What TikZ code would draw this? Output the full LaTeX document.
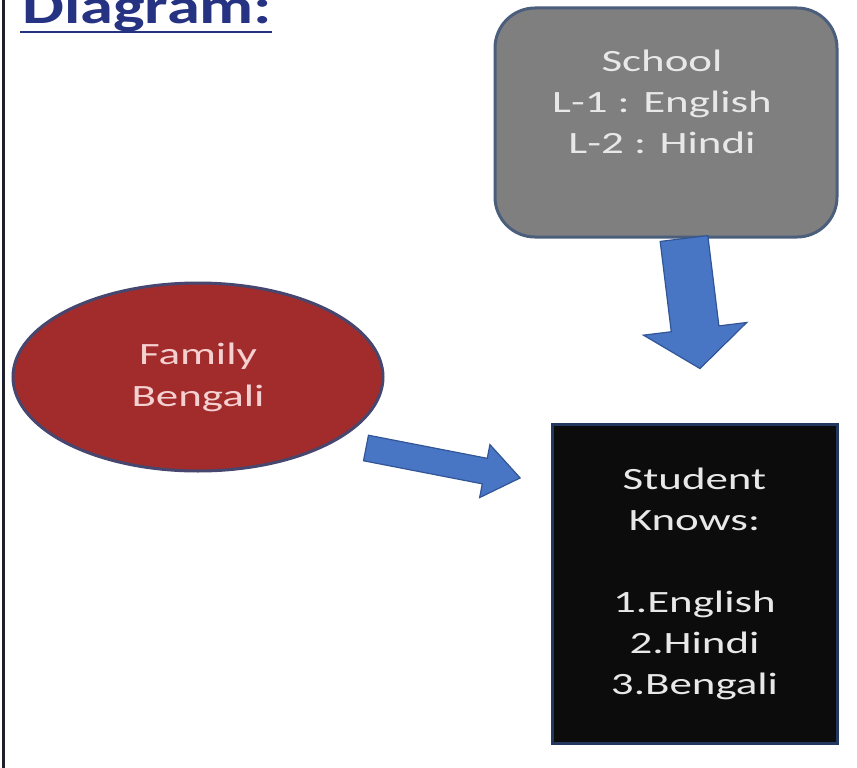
\documentclass[tikz,border=0pt]{standalone}
\usepackage{fontspec}
\setmainfont{Carlito}
\newfontfamily\slidefont[FakeStretch=1.45]{Carlito}
\newfontfamily\titlefont[FakeStretch=1.33]{Carlito}
\usetikzlibrary{calc,shapes.geometric}
\definecolor{titleblue}{RGB}{38,50,130}
\definecolor{arrowblue}{RGB}{72,118,196}
\definecolor{arrowedge}{RGB}{50,85,150}
\definecolor{schoolgray}{RGB}{127,127,127}
\definecolor{schooledge}{RGB}{75,95,125}
\definecolor{familyred}{RGB}{162,44,44}
\definecolor{familyedge}{RGB}{70,70,110}
\definecolor{famtext}{RGB}{245,208,208}
\definecolor{studentblack}{RGB}{12,12,12}
\definecolor{studentedge}{RGB}{35,55,95}
\definecolor{lighttext}{RGB}{232,232,232}
\definecolor{borderline}{RGB}{30,30,45}
\begin{document}
\begin{tikzpicture}[x=1pt,y=-1pt,
  bodytext/.style={font=\slidefont\fontsize{31}{41}\selectfont, align=center, inner sep=0pt},
  blockarrow/.style={fill=arrowblue, draw=arrowedge, line width=1.2pt, line join=miter}]
\useasboundingbox (0,0) rectangle (857,768);
\clip (0,0) rectangle (857,768);
\fill[white] (0,0) rectangle (857,768);
\draw[borderline, line width=3pt] (3.5,0) -- (3.5,768);

% title
\node[anchor=base west, inner sep=0pt, text=titleblue,
      font=\titlefont\bfseries\fontsize{50}{54}\selectfont] (title) at (22,24) {Diagram:};
\draw[titleblue, line width=2.5pt] ([xshift=-2pt,yshift=-8pt]title.base west) -- ([yshift=-8pt]title.base east);

% school
\node[draw=schooledge, line width=3pt, fill=schoolgray, rounded corners=40pt,
      minimum width=342pt, minimum height=229pt] (school) at (666,122.5) {};
\node[bodytext, text=lighttext] (schooltext) at (662,102) {School\\L-1 : English\\L-2 : Hindi};

% family
\node[ellipse, draw=familyedge, line width=3pt, fill=familyred, inner sep=0pt,
      minimum width=370pt, minimum height=188pt, bodytext, text=famtext] (family) at (198,377) {Family\\[1pt]Bengali};

% student
\node[draw=studentedge, line width=3pt, fill=studentblack, inner sep=0pt,
      minimum width=285pt, minimum height=319pt, bodytext, text=lighttext] (student) at (694.5,584) {Student\\Knows:\\[41pt]1.English\\2.Hindi\\3.Bengali};

% arrows
\coordinate (a1s) at ([xshift=18pt]school.south);
\coordinate (a1t) at ([xshift=6pt,yshift=56pt]student.north);
\begin{scope}[shift={(a1s)}, rotate=-83]
  \draw[blockarrow] (0,-24) -- (91,-24) -- (91,-52) -- (131,0) -- (91,52) -- (91,24) -- (0,24) -- cycle;
\end{scope}

\coordinate (a2s) at (366,448);
\coordinate (a2t) at (520,478);
\begin{scope}[shift={(a2s)}, rotate=-11]
  \draw[blockarrow] (0,-13) -- (121,-13) -- (121,-27) -- (157,0) -- (121,27) -- (121,13) -- (0,13) -- cycle;
\end{scope}
\end{tikzpicture}
\end{document}
